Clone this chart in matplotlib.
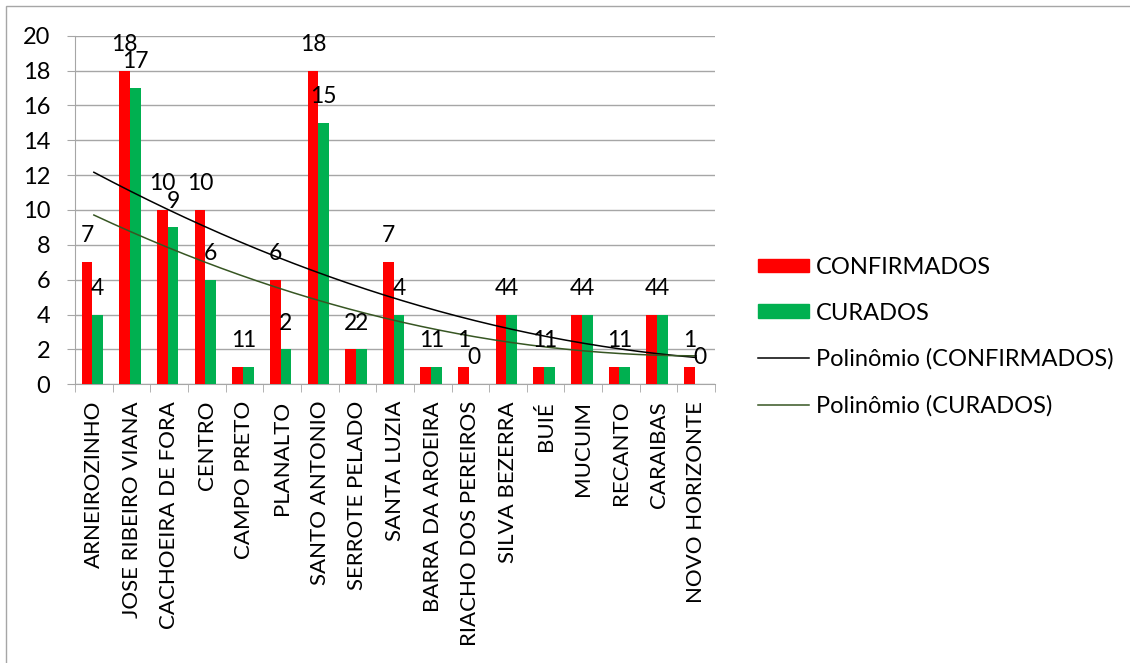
import numpy as np
import matplotlib
matplotlib.use("Agg")
import matplotlib.pyplot as plt
from matplotlib.patches import Patch, Rectangle
from matplotlib.lines import Line2D

categories = ["ARNEIROZINHO", "JOSE RIBEIRO VIANA", "CACHOEIRA DE FORA", "CENTRO",
              "CAMPO PRETO", "PLANALTO", "SANTO ANTONIO", "SERROTE PELADO",
              "SANTA LUZIA", "BARRA DA AROEIRA", "RIACHO DOS PEREIROS",
              "SILVA BEZERRA", "BUIÉ", "MUCUIM", "RECANTO", "CARAIBAS",
              "NOVO HORIZONTE"]
confirmados = [7, 18, 10, 10, 1, 6, 18, 2, 7, 1, 1, 4, 1, 4, 1, 4, 1]
curados = [4, 17, 9, 6, 1, 2, 15, 2, 4, 1, 0, 4, 1, 4, 1, 4, 0]
yticks = [0, 2, 4, 6, 8, 10, 12, 14, 16, 18, 20]

plt.rcParams['font.family'] = ['Lato', 'DejaVu Sans']
RED = "#ff0000"
GREEN = "#00b050"
TREND2 = "#375623"
GRID = "#a6a6a6"

fig = plt.figure(figsize=(11.3, 6.63), dpi=100)
ax = fig.add_axes([0.0664, 0.4204, 0.5664, 0.5258])

n = len(categories)
x = np.arange(1, n + 1)
w = 0.285
off = -0.04
ax.bar(x + off - w / 2, confirmados, width=w, color=RED, zorder=3)
ax.bar(x + off + w / 2, curados, width=w, color=GREEN, zorder=3)

for xi, v in zip(x, confirmados):
    ax.annotate(str(v), (xi + off - w / 2, v), xytext=(0, 19), textcoords="offset points",
                ha="center", va="center", fontsize=16.5, zorder=5)
for xi, v in zip(x, curados):
    ax.annotate(str(v), (xi + off + w / 2, v), xytext=(0, 19), textcoords="offset points",
                ha="center", va="center", fontsize=16.5, zorder=5)

# polynomial (order 2) trendlines
xs = np.linspace(1, n, 200)
pc = np.polyfit(x, confirmados, 2)
pr = np.polyfit(x, curados, 2)
ax.plot(xs, np.polyval(pc, xs), color="black", lw=1.1, zorder=4)
ax.plot(xs, np.polyval(pr, xs), color=TREND2, lw=1.1, zorder=4)

ax.set_xlim(0.5, n + 0.5)
ax.set_ylim(0, 20)
ax.set_yticks(yticks)
ax.set_yticklabels([str(t) for t in yticks], fontsize=17)
ax.yaxis.grid(True, color=GRID, lw=1, zorder=0)
ax.tick_params(axis="y", length=6, color=GRID, pad=12)

ax.set_xticks(x)
ax.set_xticklabels(categories, rotation=90, fontsize=16, ha="center", va="top")
ax.tick_params(axis="x", length=0, pad=12)
ax.set_xticks(np.arange(0.5, n + 1.5, 1), minor=True)
ax.tick_params(axis="x", which="minor", length=6, color=GRID)

for s in ["top", "right"]:
    ax.spines[s].set_visible(False)
for s in ["left", "bottom"]:
    ax.spines[s].set_color(GRID)

handles = [Patch(color=RED), Patch(color=GREEN),
           Line2D([], [], color="black", lw=1.1),
           Line2D([], [], color=TREND2, lw=1.1)]
labels = ["CONFIRMADOS", "CURADOS", "Polinômio (CONFIRMADOS)", "Polinômio (CURADOS)"]
fig.legend(handles, labels, loc="center left", bbox_to_anchor=(0.652, 0.4925),
           frameon=False, fontsize=17, handlelength=2.15, handleheight=0.5,
           labelspacing=1.05, handletextpad=0.3)

fig.patches.append(Rectangle((6 / 1130, -0.05), 1.2, 1 - 6.5 / 663 + 0.05,
                             transform=fig.transFigure, fill=False,
                             edgecolor=GRID, lw=1))

fig.savefig("out.png", dpi=100)
